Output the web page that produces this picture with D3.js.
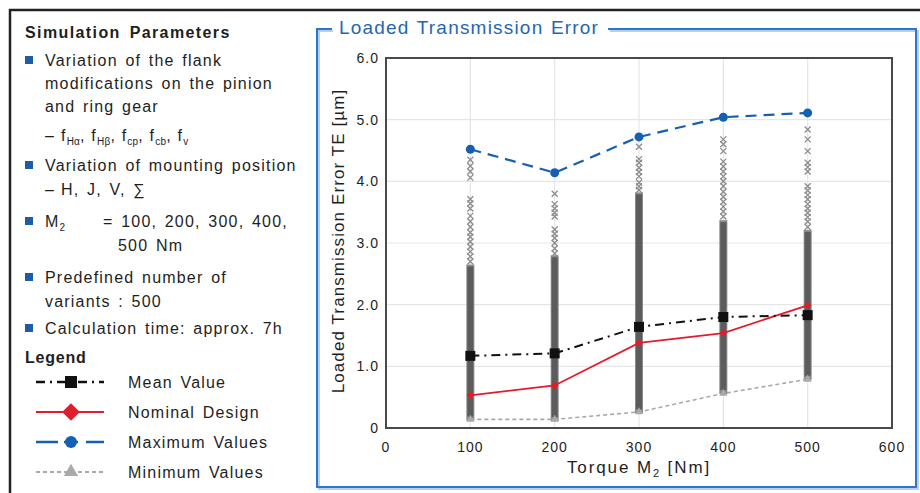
<!DOCTYPE html>
<html>
<head>
<meta charset="utf-8">
<script src="https://cdn.jsdelivr.net/npm/d3@7.9.0/dist/d3.min.js"></script>
<style>
  body { margin: 0; background: #fff; }
  svg { display: block; font-family: "Liberation Sans", Arial, sans-serif; }
</style>
</head>
<body>
<svg id="chart" width="920" height="493"></svg>
<script>
// chart values
const torques = [100, 200, 300, 400, 500];
const meanValues = [1.17, 1.21, 1.64, 1.80, 1.83];
const nominalValues = [0.53, 0.69, 1.38, 1.54, 1.99];
const maxValues = [4.52, 4.14, 4.72, 5.04, 5.11];
const minValues = [0.14, 0.14, 0.26, 0.56, 0.79];

// the variants are too dense to tell apart in the lower part of each column
const denseLow = [0.12, 0.11, 0.24, 0.55, 0.78];
const denseHigh = [2.65, 2.80, 3.82, 3.37, 3.21];
// single variants that can still be read above the dense part
const sparseVariants = [
  [4.35, 4.25, 4.16, 4.06, 3.71, 3.64, 3.56, 3.44, 3.35, 3.26, 3.17, 3.10, 3.02, 2.94, 2.86, 2.78, 2.70],
  [3.80, 3.63, 3.56, 3.49, 3.43, 3.22, 3.15, 3.08, 3.00, 2.91, 2.83],
  [4.56, 4.36, 4.30, 4.22, 4.15, 4.08, 3.98, 3.92, 3.86],
  [4.68, 4.60, 4.49, 4.32, 4.24, 4.16, 4.08, 4.00, 3.92, 3.83, 3.75, 3.67, 3.59, 3.51, 3.43],
  [4.84, 4.68, 4.49, 4.30, 4.23, 4.16, 3.92, 3.85, 3.78, 3.71, 3.63, 3.56, 3.49, 3.42, 3.35, 3.26]
];

const xTicks = [0, 100, 200, 300, 400, 500, 600];
const yTicks = [0, 1, 2, 3, 4, 5, 6];

const svg = d3.select('#chart');

const plot = { left: 386, right: 892, top: 58, bottom: 428 };
const x = d3.scaleLinear().domain([0, 600]).range([plot.left, plot.right]);
const y = d3.scaleLinear().domain([0, 6]).range([plot.bottom, plot.top]);

// outer black frame (runs off the picture right and bottom)
svg.append('rect')
   .attr('x', 10).attr('y', 10)
   .attr('width', 1000).attr('height', 1000)
   .attr('fill', 'none').attr('stroke', '#222').attr('stroke-width', 2.5);

// ---------- left panel ----------
const textColor = '#1e1e1e';
const bulletBlue = '#1f5ca8';

function addText(px, py, str, opts = {}) {
  return svg.append('text')
     .attr('x', px).attr('y', py)
     .attr('fill', opts.fill || textColor)
     .attr('font-size', opts.size || 16)
     .attr('font-weight', opts.bold ? 'bold' : null)
     .attr('letter-spacing', opts.ls ?? 1.2)
     .attr('word-spacing', opts.ws ?? 2)
     .text(str);
}

function bullet(py) {
  svg.append('rect')
     .attr('x', 25).attr('y', py - 10)
     .attr('width', 8).attr('height', 8)
     .attr('fill', bulletBlue);
}

// text with subscripts: parts are [string, isSub]
function addSubText(px, py, parts, size = 16, subSize = 10) {
  let t = svg.append('text')
     .attr('x', px).attr('y', py)
     .attr('fill', textColor)
     .attr('font-size', size)
     .attr('letter-spacing', 1.2);
  let shift = 0;
  parts.forEach(([str, sub]) => {
    let want = sub ? 4 : 0;
    t.append('tspan')
     .attr('font-size', sub ? subSize : null)
     .attr('letter-spacing', sub ? 0.2 : null)
     .attr('dy', want - shift)
     .text(str);
    shift = want;
  });
  return t;
}

addText(25, 38, 'Simulation Parameters', { bold: true, ls: 1.4, ws: 3 });

bullet(66);
addText(45, 66, 'Variation of the flank');
addText(45, 89, 'modifications on the pinion');
addText(45, 112, 'and ring gear');
addText(45, 141, '–');
addSubText(61, 141, [['f'], ['Hα', 1], [', f'], ['Hβ', 1], [', f'], ['cp', 1], [', f'], ['cb', 1], [', f'], ['v', 1]]);

bullet(171);
addText(45, 171, 'Variation of mounting position');
addText(45, 195, '–');
addText(61, 195, 'H, J, V, ∑');

bullet(227);
addSubText(45, 227, [['M'], ['2', 1]]);
addText(103, 227, '= 100, 200, 300, 400,');
addText(118, 251, '500 Nm');

bullet(283);
addText(45, 283, 'Predefined number of');
addText(45, 307, 'variants : 500');

bullet(334);
addText(45, 334, 'Calculation time: approx. 7h');

addText(25, 363, 'Legend', { bold: true, ls: 0.8 });

// ---------- series styles ----------
const series = [
  { name: 'Mean Value', values: meanValues, color: '#111', width: 2, dash: '9,5,2,5', marker: 'square' },
  { name: 'Nominal Design', values: nominalValues, color: '#e11d2c', width: 1.8, dash: null, marker: 'diamond' },
  { name: 'Maximum Values', values: maxValues, color: '#1660b3', width: 2.2, dash: '11,7', marker: 'circle' },
  { name: 'Minimum Values', values: minValues, color: '#a9a9a9', width: 1.6, dash: '4,3', marker: 'triangle' }
];

function drawMarker(g, kind, cx, cy, size, color) {
  if (kind === 'square') {
    g.append('rect').attr('x', cx - size / 2).attr('y', cy - size / 2)
     .attr('width', size).attr('height', size).attr('fill', color);
  } else if (kind === 'circle') {
    g.append('circle').attr('cx', cx).attr('cy', cy).attr('r', size / 2).attr('fill', color);
  } else if (kind === 'diamond') {
    g.append('path').attr('d', d3.symbol(d3.symbolDiamond2, size * size * 0.55)())
     .attr('transform', `translate(${cx},${cy})`).attr('fill', color);
  } else {
    g.append('path').attr('d', d3.symbol(d3.symbolTriangle, size * size * 0.45)())
     .attr('transform', `translate(${cx},${cy})`).attr('fill', color);
  }
}

// legend rows
const legendY = [382, 412, 442, 472];
const legendMarkerSize = [12, 19, 12, 14];
series.forEach((s, i) => {
  let g = svg.append('g');
  g.append('line')
   .attr('x1', 36).attr('x2', 104)
   .attr('y1', legendY[i]).attr('y2', legendY[i])
   .attr('stroke', s.color).attr('stroke-width', s.width + 0.4)
   .attr('stroke-dasharray', s.dash ? (i === 2 ? '22,6,14,8' : s.dash) : null);
  drawMarker(g, s.marker, 71, legendY[i], legendMarkerSize[i], s.color);
  addText(128, legendY[i] + 6, s.name);
});

// ---------- chart frame ----------
const frameBlue = '#2e76c6';
svg.append('path')
   .attr('d', 'M333,31 H319 V489 H918 V31 H610')
   .attr('fill', 'none').attr('stroke', '#b5cfee').attr('stroke-width', 2);
svg.append('path')
   .attr('d', 'M332,29 H317 V487 H916 V29 H608')
   .attr('fill', 'none').attr('stroke', frameBlue).attr('stroke-width', 2);

addText(339, 34, 'Loaded Transmission Error', { fill: '#1f66b3', size: 19, ls: 1.2, ws: 1 });

// ---------- grid ----------
svg.append('g')
   .selectAll('line')
   .data(yTicks.slice(1, -1))
   .join('line')
   .attr('x1', plot.left).attr('x2', plot.right)
   .attr('y1', (d) => y(d)).attr('y2', (d) => y(d))
   .attr('stroke', '#e6e6e6').attr('stroke-width', 1.2);

svg.append('g')
   .selectAll('line')
   .data(xTicks.slice(1, -1))
   .join('line')
   .attr('x1', (d) => x(d)).attr('x2', (d) => x(d))
   .attr('y1', plot.top).attr('y2', plot.bottom)
   .attr('stroke', '#e6e6e6').attr('stroke-width', 1.2);

// ---------- variant columns ----------
const cols = svg.append('g');
torques.forEach((t, i) => {
  cols.append('rect')
      .attr('x', x(t) - 4).attr('width', 8)
      .attr('y', y(denseHigh[i]))
      .attr('height', y(denseLow[i]) - y(denseHigh[i]))
      .attr('fill', '#8a8a8a');
  cols.append('rect')
      .attr('x', x(t) - 3).attr('width', 6)
      .attr('y', y(denseHigh[i]) + 2)
      .attr('height', y(denseLow[i]) - y(denseHigh[i]) - 6)
      .attr('fill', '#5c5c5c');
  sparseVariants[i].forEach((v) => {
    cols.append('path')
        .attr('d', `M${x(t) - 3},${y(v) - 3}L${x(t) + 3},${y(v) + 3}M${x(t) - 3},${y(v) + 3}L${x(t) + 3},${y(v) - 3}`)
        .attr('stroke', '#8c8c8c').attr('stroke-width', 1.3);
  });
});

// ---------- series lines ----------
const line = d3.line().x((d) => x(d[0])).y((d) => y(d[1]));
[3, 1, 0, 2].forEach((k) => {
  let s = series[k];
  let pts = torques.map((t, i) => [t, s.values[i]]);
  let g = svg.append('g');
  g.append('path')
   .attr('d', line(pts))
   .attr('fill', 'none')
   .attr('stroke', s.color)
   .attr('stroke-width', s.width)
   .attr('stroke-dasharray', s.dash);
  let size = { square: 10, diamond: 8, circle: 9, triangle: 8 }[s.marker];
  pts.forEach((p) => drawMarker(g, s.marker, x(p[0]), y(p[1]), size, s.color));
});

// ---------- plot border ----------
svg.append('rect')
   .attr('x', plot.left).attr('y', plot.top)
   .attr('width', plot.right - plot.left).attr('height', plot.bottom - plot.top)
   .attr('fill', 'none').attr('stroke', '#4a4a4a').attr('stroke-width', 2);

// ---------- tick labels ----------
svg.append('g')
   .selectAll('text')
   .data(yTicks)
   .join('text')
   .attr('x', 379)
   .attr('y', (d) => y(d) + 5)
   .attr('text-anchor', 'end')
   .attr('font-size', 14)
   .attr('letter-spacing', 1)
   .attr('fill', textColor)
   .text((d) => (d === 0 ? '0' : d.toFixed(1)));

svg.append('g')
   .selectAll('text')
   .data(xTicks)
   .join('text')
   .attr('x', (d) => x(d))
   .attr('y', 452)
   .attr('text-anchor', 'middle')
   .attr('font-size', 14)
   .attr('letter-spacing', 1)
   .attr('fill', textColor)
   .text((d) => d);

// axis titles
let xt = svg.append('text')
   .attr('x', (plot.left + plot.right) / 2).attr('y', 473)
   .attr('text-anchor', 'middle')
   .attr('font-size', 17).attr('letter-spacing', 1.9)
   .attr('fill', textColor);
xt.append('tspan').text('Torque M');
xt.append('tspan').attr('font-size', 11).attr('dy', 4).text('2');
xt.append('tspan').attr('dy', -4).text(' [Nm]');

svg.append('text')
   .attr('transform', `translate(344,${(plot.top + plot.bottom) / 2 - 2}) rotate(-90)`)
   .attr('text-anchor', 'middle')
   .attr('font-size', 17).attr('letter-spacing', 1.1)
   .attr('fill', textColor)
   .text('Loaded Transmission Error TE [µm]');
</script>
</body>
</html>
